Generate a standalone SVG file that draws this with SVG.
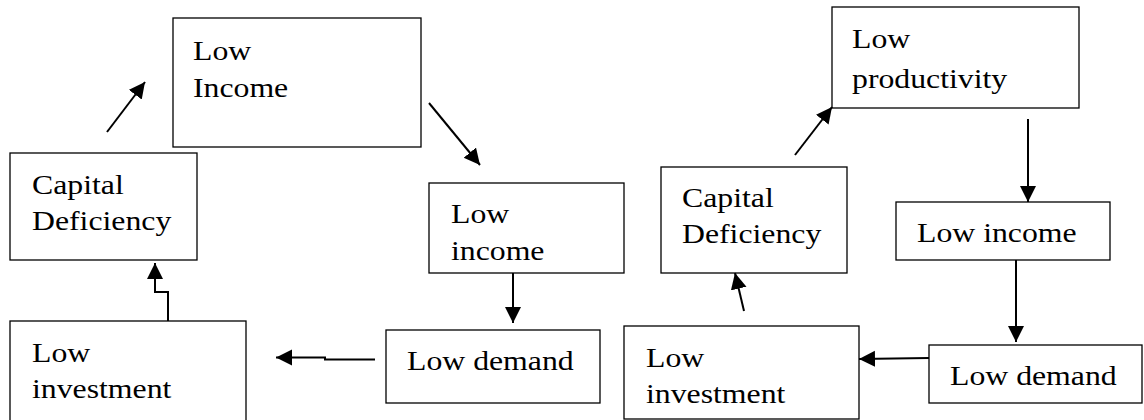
<svg xmlns="http://www.w3.org/2000/svg" width="1144" height="420" viewBox="0 0 1144 420">
<style>
  .box { fill: #ffffff; stroke: #000000; stroke-width: 1.3; }
  .conn { fill: none; stroke: #000000; stroke-width: 2; marker-end: url(#arrow); }
</style>
<defs>
  <marker id="arrow" markerUnits="userSpaceOnUse" markerWidth="18" markerHeight="18" refX="16" refY="8" orient="auto">
    <path d="M0,0 L16,8 L0,16 z" fill="#000000"/>
  </marker>
</defs>
<rect x="0" y="0" width="1144" height="420" fill="#ffffff"/>

<g id="nodes" font-family="Liberation Serif, serif" font-size="26.7" fill="#000000">
<g id="n-low-income-top">
  <rect class="box" x="173" y="18" width="248" height="129"/>
  <text transform="matrix(1.19 0 0 1 193 60)">Low</text>
  <text transform="matrix(1.19 0 0 1 193 97)">Income</text>
</g>
<g id="n-capital-deficiency-left">
  <rect class="box" x="10" y="153" width="187" height="107"/>
  <text transform="matrix(1.19 0 0 1 32 194)">Capital</text>
  <text transform="matrix(1.19 0 0 1 32 230)">Deficiency</text>
</g>
<g id="n-low-income-mid">
  <rect class="box" x="429" y="183" width="195" height="90"/>
  <text transform="matrix(1.19 0 0 1 451 223)">Low</text>
  <text transform="matrix(1.19 0 0 1 451 260)">income</text>
</g>
<g id="n-low-demand-mid">
  <rect class="box" x="386" y="330" width="214" height="73"/>
  <text transform="matrix(1.19 0 0 1 407 370)">Low demand</text>
</g>
<g id="n-low-investment-left">
  <rect class="box" x="10" y="321" width="236" height="106"/>
  <text transform="matrix(1.19 0 0 1 32 362)">Low</text>
  <text transform="matrix(1.19 0 0 1 32 398)">investment</text>
</g>
<g id="n-low-productivity">
  <rect class="box" x="832" y="7" width="247" height="101"/>
  <text transform="matrix(1.19 0 0 1 852 48)">Low</text>
  <text transform="matrix(1.19 0 0 1 852 88)">productivity</text>
</g>
<g id="n-capital-deficiency-right">
  <rect class="box" x="661" y="167" width="186" height="106"/>
  <text transform="matrix(1.19 0 0 1 682 207)">Capital</text>
  <text transform="matrix(1.19 0 0 1 682 243)">Deficiency</text>
</g>
<g id="n-low-income-right">
  <rect class="box" x="896" y="202" width="214" height="58"/>
  <text transform="matrix(1.19 0 0 1 917 242)">Low income</text>
</g>
<g id="n-low-demand-right">
  <rect class="box" x="929" y="345" width="213" height="58"/>
  <text transform="matrix(1.19 0 0 1 950 385)">Low demand</text>
</g>
<g id="n-low-investment-right">
  <rect class="box" x="624" y="326" width="235" height="93"/>
  <text transform="matrix(1.19 0 0 1 646 367)">Low</text>
  <text transform="matrix(1.19 0 0 1 646 403)">investment</text>
</g>
</g>

<g id="connectors">
  <path class="conn" d="M107,132 L145,82"/>
  <path class="conn" d="M429,103 L480,165"/>
  <path class="conn" d="M513,273 L513,323"/>
  <path class="conn" d="M375,359.5 H325 V357.5 H276"/>
  <path class="conn" d="M168,321 V292 H155 V263"/>
  <path class="conn" d="M795,155 L832,107"/>
  <path class="conn" d="M1028,119 L1028,202"/>
  <path class="conn" d="M1016,260 L1016,342"/>
  <path class="conn" d="M929,358 L859,359"/>
  <path class="conn" d="M744,311 L735,273"/>
</g>
</svg>
